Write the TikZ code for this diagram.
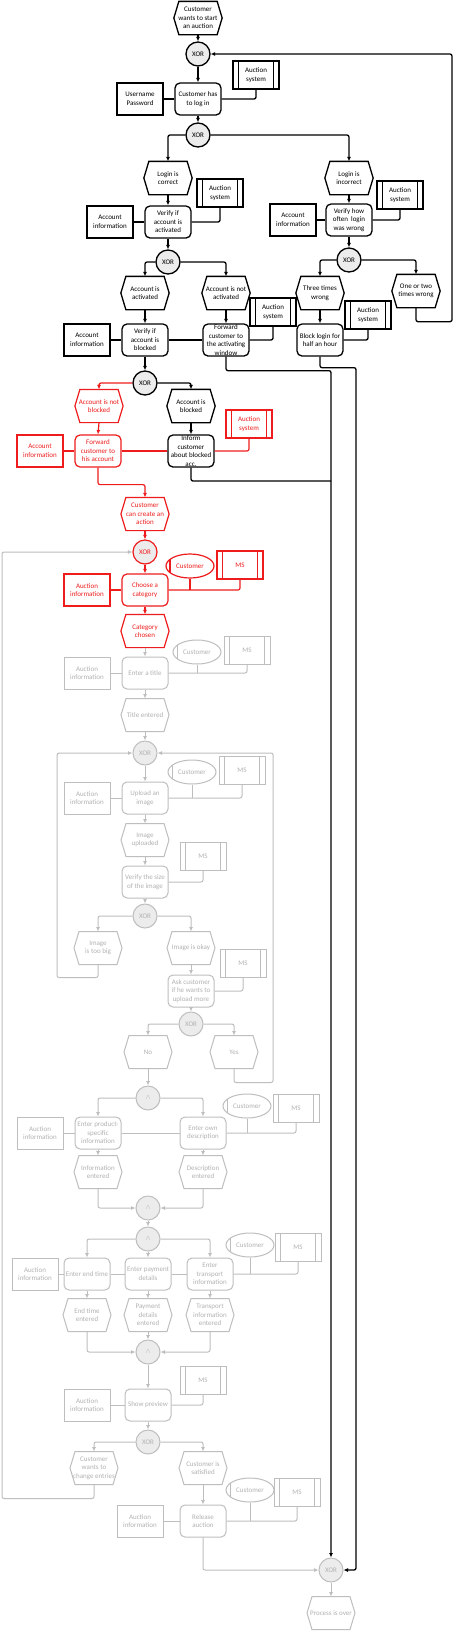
\documentclass[tikz,border=0pt]{standalone}
\usepackage{fontspec}
\setmainfont{Carlito}
\usetikzlibrary{arrows.meta,shapes.geometric,calc}
\definecolor{epcred}{RGB}{238,28,28}
\definecolor{epcgray}{RGB}{190,190,190}
\definecolor{epcgtext}{RGB}{178,178,178}
\definecolor{xorfill}{RGB}{236,236,236}
\newcommand\epcev[4]{%
  \node[evbox,#1,draw=none] (#2) at (#3) {#4};
  \draw[#1] (#2.west) -- ([xshift=5pt]#2.north west) -- ([xshift=-5pt]#2.north east) -- (#2.east) -- ([xshift=-5pt]#2.south east) -- ([xshift=5pt]#2.south west) -- cycle;}
\begin{document}
\begin{tikzpicture}[x=1pt,y=-1pt,
  font=\fontsize{7}{8.5}\selectfont,
  every node/.style={inner sep=0pt,align=center},
  bk/.style={draw=black,line width=1.3pt,text=black},
  rd/.style={draw=epcred,line width=1.2pt,text=epcred},
  gy/.style={draw=epcgray,line width=1pt,text=epcgtext},
  evbox/.style={rectangle,minimum width=47pt,minimum height=32pt},
  fn/.style={#1,rectangle,rounded corners=5pt,minimum width=46pt,minimum height=32pt},
  info/.style={#1,rectangle,minimum width=46pt,minimum height=32pt},
  sup/.style={#1,rectangle,minimum width=46pt,minimum height=28pt,
    path picture={\draw[#1] ([xshift=5.5pt]path picture bounding box.north west) -- ([xshift=5.5pt]path picture bounding box.south west)
      ([xshift=-5.5pt]path picture bounding box.north east) -- ([xshift=-5.5pt]path picture bounding box.south east);}},
  org/.style={#1,ellipse,minimum width=48pt,minimum height=24pt,
    path picture={\draw[#1] ([xshift=4pt]path picture bounding box.north west) -- ([xshift=4pt]path picture bounding box.south west);}},
  xr/.style={#1,circle,fill=xorfill,minimum size=24pt},
  cn/.style={#1,rounded corners=2pt},
  ar/.style={#1,rounded corners=2pt,-{Latex[length=4.5pt,width=4pt]}},
]
\fill[white] (0,0) rectangle (454,1631);
\useasboundingbox (0,0) rectangle (454,1631);

% helper coordinates for free corners
\coordinate (rgt1) at (452,0);
\coordinate (rgt3) at (356,0);
\coordinate (lft) at (2,0);
\coordinate (lft2) at (57,0);
\coordinate (rgt2) at (273,0);
\coordinate (jA) at (0,481);

% ---------- black part ----------
\epcev{bk}{s0}{198,18}{Customer\\wants to start\\an auction}
\node[xr=bk] (x1) at (198,54) {XOR};
\node[sup=bk] (as1) at (256,75) {Auction\\system};
\node[info=bk] (up) at (140,99) {Username\\Password};
\node[fn=bk] (f1) at (198,99) {Customer has\\to log in};
\node[xr=bk] (x2) at (198,135) {XOR};
\epcev{bk}{lc}{168,178}{Login is\\correct}
\node[sup=bk] (as2) at (220,193) {Auction\\system};
\node[info=bk] (ai1) at (110,222) {Account\\information};
\node[fn=bk] (va) at (168,222) {Verify if\\account is\\activated};
\node[xr=bk] (x3) at (168,262) {XOR};
\epcev{bk}{li}{349,178}{Login is\\incorrect}
\node[sup=bk] (as3) at (400,195) {Auction\\system};
\node[info=bk] (ai2) at (293,220) {Account\\information};
\node[fn=bk] (vh) at (349,220) {Verify how\\often \ login\\was wrong};
\node[xr=bk] (x4) at (349,260) {XOR};
\epcev{bk}{aa}{145,293}{Account is\\activated}
\epcev{bk}{ana}{226,293}{Account is not\\activated}
\epcev{bk}{tw}{320,293}{Three times\\wrong}
\epcev{bk}{ot}{416,291}{One or two\\times wrong}
\node[sup=bk] (as4) at (273,312) {Auction\\system};
\node[sup=bk] (as5) at (368,315) {Auction\\system};
\node[info=bk] (ai3) at (87,340) {Account\\information};
\node[fn=bk] (vb) at (145,340) {Verify if\\account is\\blocked};
\node[fn=bk] (fa) at (226,340) {Forward\\customer to\\the activating\\window};
\node[fn=bk] (bl) at (320,340) {Block login for\\half an hour};
\node[xr=bk] (x5) at (145,383) {XOR};
\epcev{rd}{anb}{99,406}{Account is not\\blocked}
\epcev{bk}{ab}{191,406}{Account is\\blocked}
\node[sup=rd] (as6) at (249,424) {Auction\\system};
\node[info=rd] (ai4) at (40,451) {Account\\information};
\node[fn=rd] (fh) at (98,451) {Forward\\customer to\\his account};
\node[fn=bk] (ib) at (191,451) {Inform\\customer\\about blocked\\acc.};
\epcev{rd}{cc}{145,514}{Customer\\can create an\\action}
\node[xr=rd] (x6) at (145,552) {XOR};
\node[org=rd] (cu1) at (190,566) {Customer};
\node[sup=rd] (ms1) at (240,565) {MS};
\node[info=rd] (ai5) at (87,590) {Auction\\information};
\node[fn=rd] (cat) at (145,590) {Choose a\\category};
\epcev{rd}{cch}{145,631}{Category\\chosen}

% ---------- gray part ----------
\node[org=gy] (cu2) at (197,652) {Customer};
\node[sup=gy] (ms2) at (247,650) {MS};
\node[info=gy] (ai6) at (87,673) {Auction\\information};
\node[fn=gy] (et1) at (145,673) {Enter a title};
\epcev{gy}{te1}{145,715}{Title entered}
\node[xr=gy] (x7) at (145,753) {XOR};
\node[org=gy] (cu3) at (192,772) {Customer};
\node[sup=gy] (ms3) at (242,770) {MS};
\node[info=gy] (ai7) at (87,798) {Auction\\information};
\node[fn=gy] (upl) at (145,798) {Upload an\\image};
\epcev{gy}{iu}{145,840}{Image\\uploaded}
\node[sup=gy] (ms4) at (203,856) {MS};
\node[fn=gy] (vs) at (145,882) {Verify the size\\of the image};
\node[xr=gy] (x8) at (145,916) {XOR};
\epcev{gy}{tb}{98,948}{Image\\is too big}
\epcev{gy}{ok}{191,948}{Image is okay}
\node[sup=gy] (ms5) at (243,963) {MS};
\node[fn=gy] (ask) at (191,991) {Ask customer\\if he wants to\\upload more};
\node[xr=gy] (x9) at (191,1024) {XOR};
\epcev{gy}{no}{148,1052}{No}
\epcev{gy}{yes}{234,1052}{Yes}
\node[xr=gy] (a1) at (148,1098) {$\wedge$};
\node[org=gy] (cu4) at (247,1106) {Customer};
\node[sup=gy] (ms6) at (296,1108) {MS};
\node[info=gy] (ai8) at (40,1133) {Auction\\information};
\node[fn=gy] (pi) at (98,1133) {Enter product-\\specific\\information};
\node[fn=gy] (od) at (203,1133) {Enter own\\description};
\epcev{gy}{ie}{98,1172}{Information\\entered}
\epcev{gy}{de}{203,1172}{Description\\entered}
\node[xr=gy] (a2) at (148,1208) {$\wedge$};
\node[xr=gy] (a3) at (148,1239) {$\wedge$};
\node[org=gy] (cu5) at (250,1245) {Customer};
\node[sup=gy] (ms7) at (298,1247) {MS};
\node[info=gy] (ai9) at (35,1274) {Auction\\information};
\node[fn=gy] (etm) at (87,1274) {Enter end time};
\node[fn=gy] (pay) at (148,1274) {Enter payment\\details};
\node[fn=gy] (tr) at (210,1274) {Enter\\transport\\information};
\epcev{gy}{ete}{87,1315}{End time\\entered}
\epcev{gy}{pde}{148,1315}{Payment\\details\\entered}
\epcev{gy}{tie}{210,1315}{Transport\\information\\entered}
\node[xr=gy] (a4) at (148,1352) {$\wedge$};
\node[sup=gy] (ms8) at (203,1380) {MS};
\node[info=gy] (ai10) at (87,1405) {Auction\\information};
\node[fn=gy] (sp) at (148,1405) {Show preview};
\node[xr=gy] (x10) at (148,1442) {XOR};
\epcev{gy}{ce}{94,1468}{Customer\\wants to\\change entries}
\epcev{gy}{cs}{203,1468}{Customer is\\satisfied}
\node[org=gy] (cu6) at (250,1490) {Customer};
\node[sup=gy] (ms9) at (297,1492) {MS};
\node[info=gy] (ai11) at (140,1521) {Auction\\information};
\node[fn=gy] (rel) at (203,1521) {Release\\auction};
\node[xr=gy] (xf) at (331,1570) {XOR};
\epcev{gy}{po}{331,1613}{Process is over}

% ---------- black connectors ----------
\draw[ar=bk] (s0.south) -- (x1.north);
\draw[ar=bk] (x1.south) -- (f1.north);
\draw[cn=bk] (up.east) -- (f1.west);
\draw[cn=bk] (f1.east) -| (as1.south);
\draw[ar=bk] (f1.south) -- (x2.north);
\draw[ar=bk] (x2.west) -| (lc.north);
\draw[ar=bk] (x2.east) -| (li.north);
\draw[ar=bk] (lc.south) -- (va.north);
\draw[cn=bk] (ai1.east) -- (va.west);
\draw[cn=bk] (va.east) -| (as2.south);
\draw[ar=bk] (va.south) -- (x3.north);
\draw[ar=bk] (x3.west) -| (aa.north);
\draw[ar=bk] (x3.east) -| (ana.north);
\draw[ar=bk] (li.south) -- (vh.north);
\draw[cn=bk] (ai2.east) -- (vh.west);
\draw[cn=bk] (vh.east) -| (as3.south);
\draw[ar=bk] (vh.south) -- (x4.north);
\draw[ar=bk] (x4.west) -| (tw.north);
\draw[ar=bk] (x4.east) -| (ot.north);
\draw[ar=bk] (ot.south) -- ++(0,14) -| (rgt1 |- x1.east) -- (x1.east);
\draw[ar=bk] (aa.south) -- (vb.north);
\draw[ar=bk] (ana.south) -- (fa.north);
\draw[ar=bk] (tw.south) -- (bl.north);
\draw[cn=bk] (ai3.east) -- (vb.west);
\draw[cn=bk] (vb.east) -- (fa.west);
\draw[cn=bk] (fa.east) -| (as4.south);
\draw[cn=bk] (bl.east) -| (as5.south);
\draw[ar=bk] (vb.south) -- (x5.north);
\draw[ar=bk] (x5.east) -| (ab.north);
\draw[ar=bk] (fa.south) -- ++(0,14) -| (xf.north);
\draw[ar=bk] (bl.south) -- ++(0,11) -| (rgt3 |- xf.east) -- (xf.east);
\draw[ar=bk] (ab.south) -- (ib.north);
\draw[cn=bk] (ib.south) |- (jA -| xf.north);

% ---------- red connectors ----------
\draw[ar=rd] (x5.west) -| (anb.north);
\draw[ar=rd] (anb.south) -- (fh.north);
\draw[cn=rd] (ai4.east) -- (fh.west);
\draw[cn=rd] (fh.east) -- (ib.west);
\draw[cn=rd] (ib.east) -| (as6.south);
\draw[ar=rd] (fh.south) -- ++(0,17) -| (cc.north);
\draw[ar=rd] (cc.south) -- (x6.north);
\draw[ar=rd] (x6.south) -- (cat.north);
\draw[cn=rd] (ai5.east) -- (cat.west);
\draw[cn=rd] (cat.east) -| (ms1.south);
\draw[cn=rd] (cu1.south) -- (cu1.south |- cat.east);
\draw[ar=rd] (cat.south) -- (cch.north);

% ---------- gray connectors ----------
\draw[ar=gy] (cch.south) -- (et1.north);
\draw[cn=gy] (ai6.east) -- (et1.west);
\draw[cn=gy] (et1.east) -| (ms2.south);
\draw[cn=gy] (cu2.south) -- (cu2.south |- et1.east);
\draw[ar=gy] (et1.south) -- (te1.north);
\draw[ar=gy] (te1.south) -- (x7.north);
\draw[ar=gy] (x7.south) -- (upl.north);
\draw[cn=gy] (ai7.east) -- (upl.west);
\draw[cn=gy] (upl.east) -| (ms3.south);
\draw[cn=gy] (cu3.south) -- (cu3.south |- upl.east);
\draw[ar=gy] (upl.south) -- (iu.north);
\draw[ar=gy] (iu.south) -- (vs.north);
\draw[cn=gy] (vs.east) -| (ms4.south);
\draw[ar=gy] (vs.south) -- (x8.north);
\draw[ar=gy] (x8.west) -| (tb.north);
\draw[ar=gy] (x8.east) -| (ok.north);
\draw[ar=gy] (tb.south) -- ++(0,13) -| (lft2 |- x7.west) -- (x7.west);
\draw[ar=gy] (ok.south) -- (ask.north);
\draw[cn=gy] (ask.east) -| (ms5.south);
\draw[ar=gy] (ask.south) -- (x9.north);
\draw[ar=gy] (x9.west) -| (no.north);
\draw[ar=gy] (x9.east) -| (yes.north);
\draw[ar=gy] (yes.south) -- ++(0,14) -| (rgt2 |- x7.east) -- (x7.east);
\draw[ar=gy] (no.south) -- (a1.north);
\draw[ar=gy] (a1.west) -| (pi.north);
\draw[ar=gy] (a1.east) -| (od.north);
\draw[cn=gy] (ai8.east) -- (pi.west);
\draw[cn=gy] (pi.east) -- (od.west);
\draw[cn=gy] (od.east) -| (ms6.south);
\draw[cn=gy] (cu4.south) -- (cu4.south |- od.east);
\draw[ar=gy] (pi.south) -- (ie.north);
\draw[ar=gy] (od.south) -- (de.north);
\draw[ar=gy] (ie.south) |- (a2.west);
\draw[ar=gy] (de.south) |- (a2.east);
\draw[ar=gy] (a2.south) -- (a3.north);
\draw[ar=gy] (a3.west) -| (etm.north);
\draw[ar=gy] (a3.south) -- (pay.north);
\draw[ar=gy] (a3.east) -| (tr.north);
\draw[cn=gy] (ai9.east) -- (etm.west);
\draw[cn=gy] (etm.east) -- (pay.west);
\draw[cn=gy] (pay.east) -- (tr.west);
\draw[cn=gy] (tr.east) -| (ms7.south);
\draw[cn=gy] (cu5.south) -- (cu5.south |- tr.east);
\draw[ar=gy] (etm.south) -- (ete.north);
\draw[ar=gy] (pay.south) -- (pde.north);
\draw[ar=gy] (tr.south) -- (tie.north);
\draw[ar=gy] (ete.south) |- (a4.west);
\draw[ar=gy] (pde.south) -- (a4.north);
\draw[ar=gy] (tie.south) |- (a4.east);
\draw[ar=gy] (a4.south) -- (sp.north);
\draw[cn=gy] (ai10.east) -- (sp.west);
\draw[cn=gy] (sp.east) -| (ms8.south);
\draw[ar=gy] (sp.south) -- (x10.north);
\draw[ar=gy] (x10.west) -| (ce.north);
\draw[ar=gy] (x10.east) -| (cs.north);
\draw[ar=gy] (ce.south) -- ++(0,14) -| (lft |- x6.west) -- (x6.west);
\draw[ar=gy] (cs.south) -- (rel.north);
\draw[cn=gy] (ai11.east) -- (rel.west);
\draw[cn=gy] (rel.east) -| (ms9.south);
\draw[cn=gy] (cu6.south) -- (cu6.south |- rel.east);
\draw[ar=gy] (rel.south) |- (xf.west);
\draw[ar=gy] (xf.south) -- (po.north);
\end{tikzpicture}
\end{document}
